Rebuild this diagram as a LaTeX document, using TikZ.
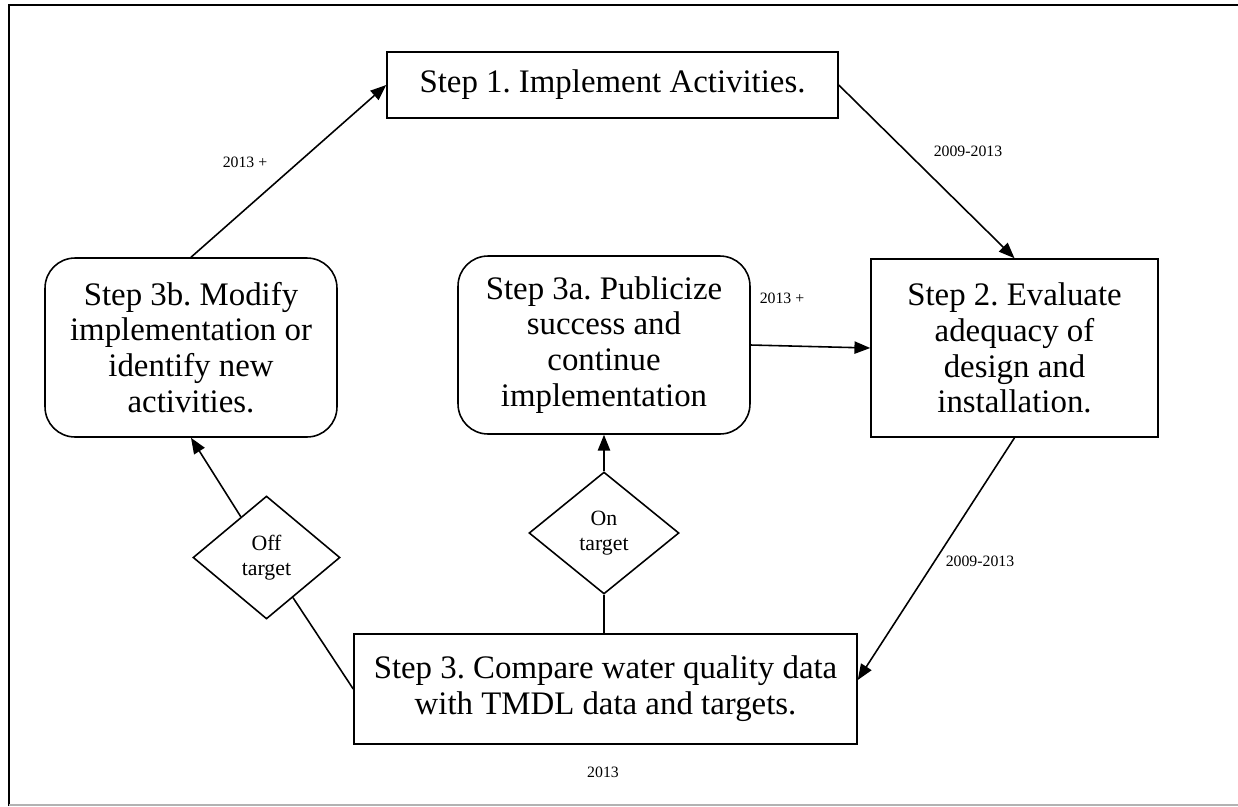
\documentclass[tikz,border=0pt]{standalone}
\usepackage{fontspec}
\setmainfont{Liberation Serif}
\usetikzlibrary{arrows.meta,shapes.geometric}
\frenchspacing

\begin{document}
\begin{tikzpicture}[x=0.02cm, y=-0.02cm,
        stepbox/.style={rectangle, draw, line width=0.9pt, align=center, inner sep=2pt,
            font=\fontsize{18.7}{20.4}\selectfont},
        roundbox/.style={stepbox, rounded corners=0.6cm},
        decision/.style={diamond, draw, line width=0.9pt, align=center, inner sep=1pt,
            font=\fontsize{12.4}{14.2}\selectfont},
        year/.style={font=\fontsize{9}{10}\selectfont, inner sep=1pt},
        arrow/.style={-{Triangle[length=9pt, width=7pt]}, line width=0.9pt},
        link/.style={line width=0.9pt}
    ]
        \useasboundingbox (0,0) rectangle (1238,806);
        % page frame
        \draw[line width=1.3pt] (9,806) -- (9,5) -- (1238,5);
        \draw[gray!60, line width=0.8pt] (9,805) -- (1238,805);

        \node[stepbox, minimum width=9.02cm, minimum height=1.32cm] (step1) at (612.5,85) {Step 1. Implement Activities.};
        \node[stepbox, minimum width=5.74cm, minimum height=3.56cm] (step2) at (1014.5,348) {Step 2. Evaluate\\adequacy of\\design and\\installation.};
        \node[stepbox, minimum width=10.06cm, minimum height=2.2cm] (step3) at (605.5,689) {Step 3. Compare water quality data\\with TMDL data and targets.};
        \node[roundbox, minimum width=5.84cm, minimum height=3.56cm] (step3a) at (604,345) {Step 3a. Publicize\\success and\\continue\\implementation};
        \node[roundbox, minimum width=5.84cm, minimum height=3.58cm] (step3b) at (191,347.5) {Step 3b. Modify\\implementation or\\identify new\\activities.};

        \node[decision, minimum width=2.94cm, minimum height=2.46cm] (off) at (266.5,557.5) {Off\\target};
        \node[decision, minimum width=3.0cm, minimum height=2.44cm] (on) at (604,533) {On\\target};

        \node[year] (y3b) at (245,162) {2013 +};
        \node[year] (y12) at (968,151) {2009-2013};
        \node[year] (y3a) at (782,298) {2013 +};
        \node[year] (y23) at (980,561) {2009-2013};
        \node[year] (y3) at (603,772) {2013};

        \draw[arrow] (step3b.north) -- (step1.west);
        \draw[arrow] (step1.east) -- (step2.north);
        \draw[arrow] (step3a.east) -- (step2.west);
        \draw[arrow] (step2.south) -- ([yshift=0.18cm]step3.east);
        \draw[arrow] (off) -- (step3b.south);
        \draw[link] (off) -- (step3.west);
        \draw[arrow] (on) -- (step3a.south);
        \draw[link] (on.south) -- (on.south |- step3.north);
    \end{tikzpicture}
\end{document}
